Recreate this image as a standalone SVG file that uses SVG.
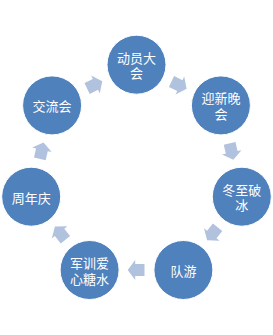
<svg xmlns="http://www.w3.org/2000/svg" width="273" height="335" viewBox="0 0 273 335">
<style>
.node circle{fill:#4F81BD;stroke:#FFFFFF;stroke-width:1}
.node text{fill:#FFFFFF;font-family:"Noto Sans CJK SC","Noto Sans",sans-serif;font-size:13px;text-anchor:middle;dominant-baseline:central}
.arr{fill:#B1C2DE}
</style>
<defs>
<path id="ar" d="M-8,-6 L1.3,-6 L1.3,-10 L8.8,0 L1.3,10 L1.3,6 L-8,6 Z"/>
</defs>
<rect width="273" height="335" fill="#FFFFFF"/>
<g id="connectors">
<use href="#ar" class="arr" transform="translate(178.7,85) rotate(25.71)"/>
<use href="#ar" class="arr" transform="translate(231.4,151.1) rotate(77.14)"/>
<use href="#ar" class="arr" transform="translate(212.6,233.4) rotate(128.57)"/>
<use href="#ar" class="arr" transform="translate(136.5,270) rotate(180)"/>
<use href="#ar" class="arr" transform="translate(60.4,233.4) rotate(231.43)"/>
<use href="#ar" class="arr" transform="translate(41.6,151.1) rotate(282.86)"/>
<use href="#ar" class="arr" transform="translate(94.3,85) rotate(334.29)"/>
</g>
<g id="n1" class="node"><circle cx="136.5" cy="64.7" r="29.5"/><text x="136.5" y="57.2">动员大<tspan x="136.5" dy="15">会</tspan></text></g>
<g id="n2" class="node"><circle cx="220.9" cy="105.4" r="29.5"/><text x="220.9" y="97.9">迎新晚<tspan x="220.9" dy="15">会</tspan></text></g>
<g id="n3" class="node"><circle cx="241.8" cy="196.7" r="29.5"/><text x="241.8" y="189.2">冬至破<tspan x="241.8" dy="15">冰</tspan></text></g>
<g id="n4" class="node"><circle cx="183.4" cy="270" r="29.5"/><text x="183.4" y="270.5">队游</text></g>
<g id="n5" class="node"><circle cx="89.6" cy="270" r="29.5"/><text x="89.6" y="262.2">军训爱<tspan x="89.6" dy="15.5">心糖水</tspan></text></g>
<g id="n6" class="node"><circle cx="31.2" cy="196.7" r="29.5"/><text x="31.2" y="197.2">周年庆</text></g>
<g id="n7" class="node"><circle cx="52.1" cy="105.4" r="29.5"/><text x="52.1" y="105.9">交流会</text></g>
</svg>
